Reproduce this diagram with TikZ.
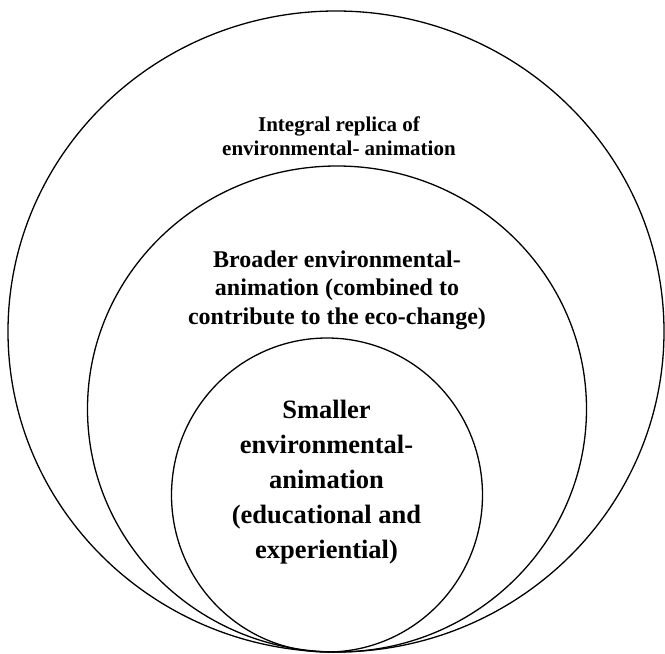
\documentclass[tikz,border=0pt]{standalone}
\usepackage{fontspec}
\setmainfont{Liberation Serif}
\usetikzlibrary{shapes.geometric}
\tikzset{
  ring/.style={draw=black, line width=1.3pt, ellipse, inner sep=0pt, outer sep=0pt},
  outerlbl/.style={align=center, font=\fontsize{21}{23.5}\selectfont\bfseries, inner sep=0pt},
  midlbl/.style={align=center, font=\fontsize{24}{28.5}\selectfont\bfseries, inner sep=0pt},
  innerlbl/.style={align=center, font=\fontsize{26.5}{35}\selectfont\bfseries, inner sep=0pt}
}
\begin{document}
\begin{tikzpicture}[x=1pt,y=-1pt]
\useasboundingbox (0,0) rectangle (665,654);
\node[ring, minimum width=656pt, minimum height=641pt] (outer) at (336,331.5) {};
\node[ring, minimum width=499pt, minimum height=486pt] (middle) at (337,409) {};
\node[ring, minimum width=311pt, minimum height=314pt] (inner) at (327,495) {};
\node[outerlbl] (tout) at (339,136) {Integral replica of\\environmental- animation};
\node[midlbl] (tmid) at (337,290) {Broader environmental-\\animation (combined to\\contribute to the eco-change)};
\node[innerlbl] (tin) at (326.5,482) {Smaller\\environmental-\\animation\\(educational and\\experiential)};
\end{tikzpicture}
\end{document}
